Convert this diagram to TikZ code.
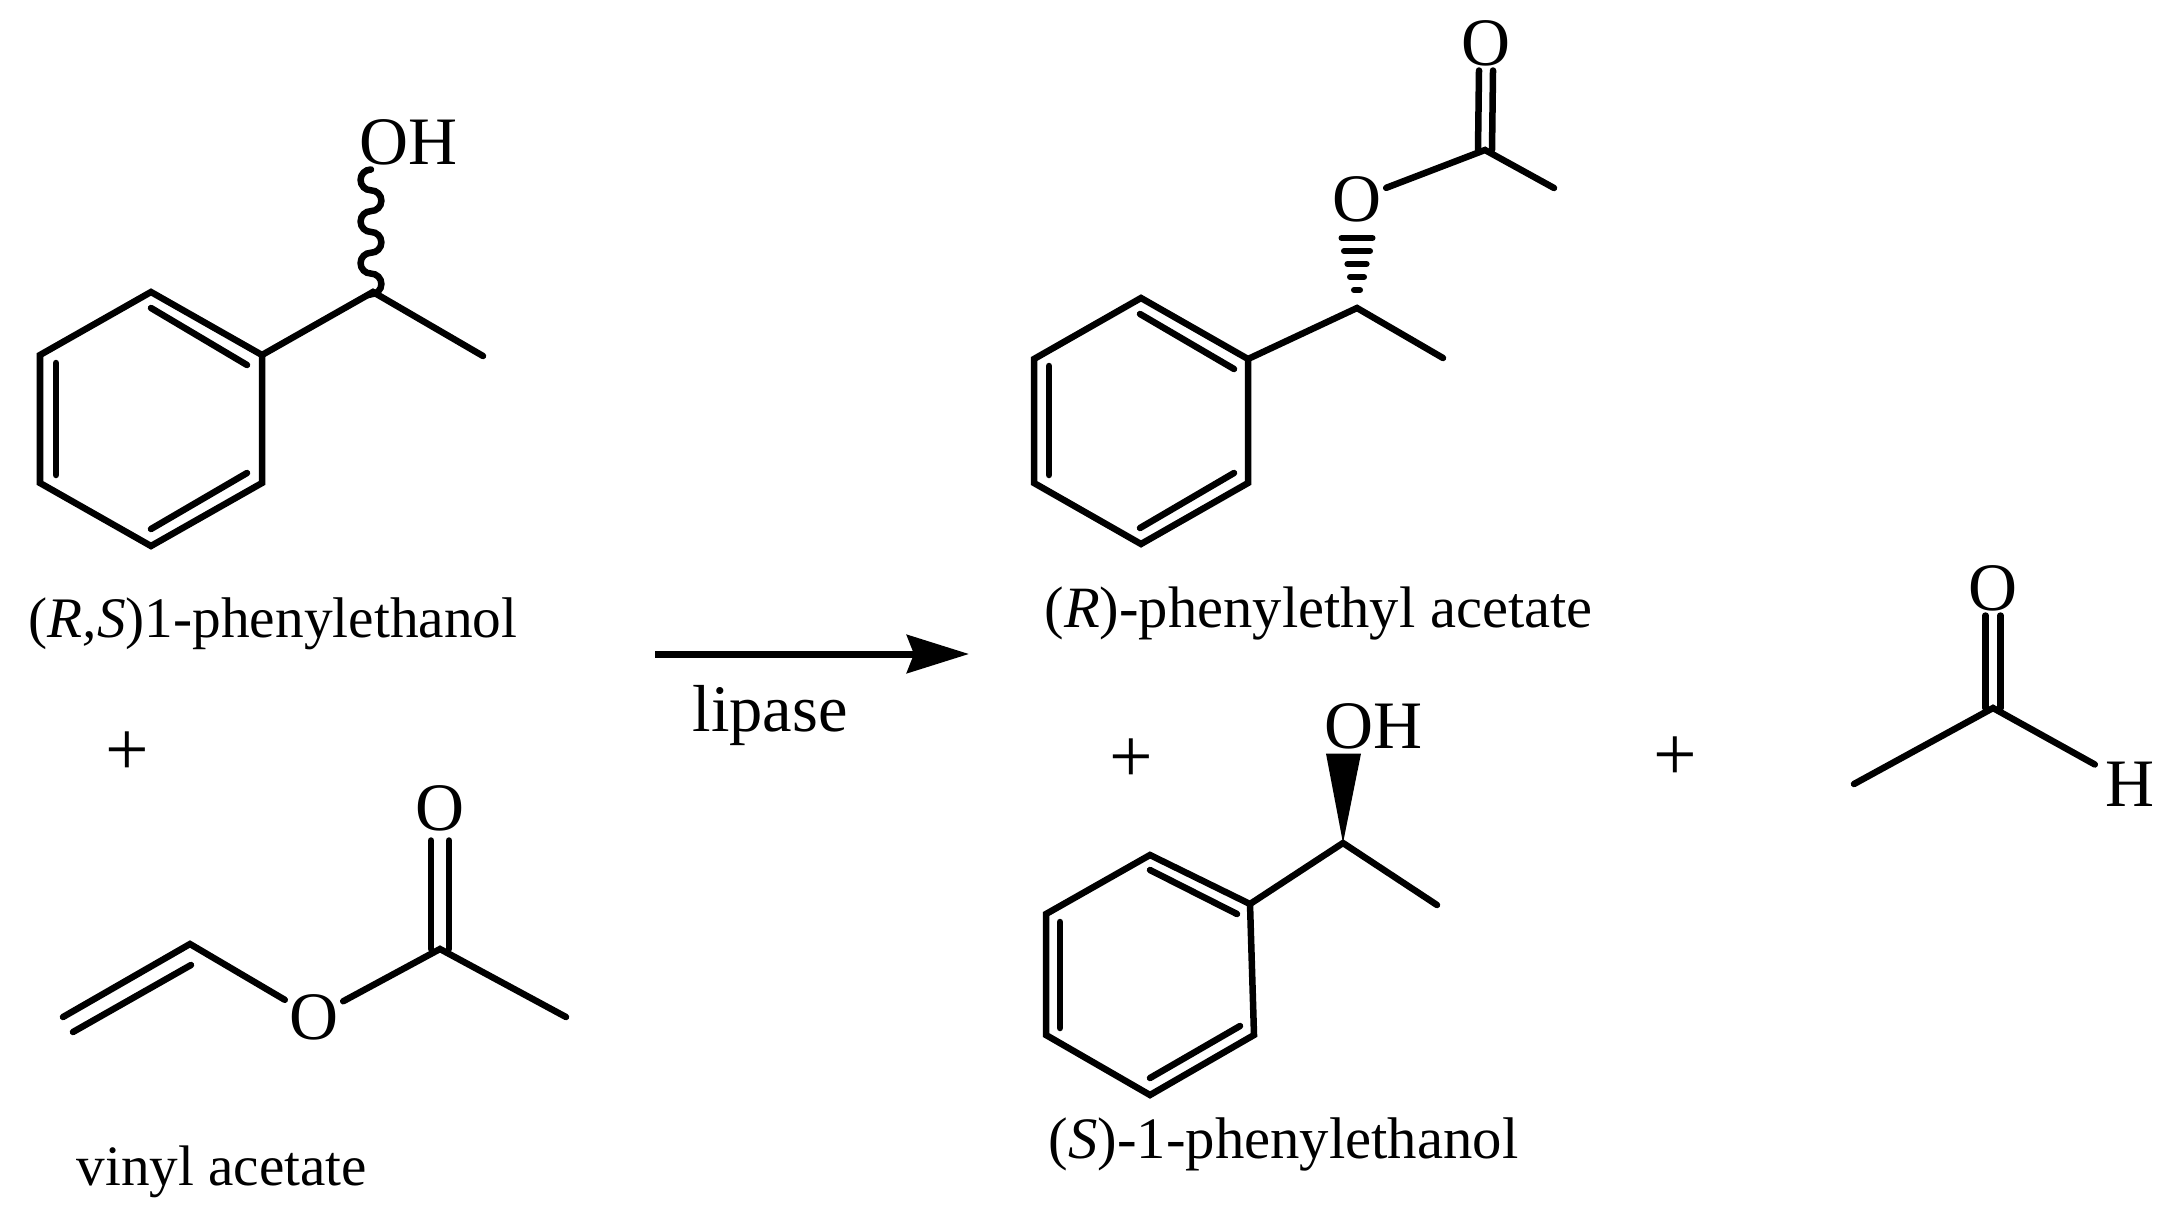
\documentclass[tikz,border=0pt]{standalone}
\usepackage{fontspec}
\usepackage{xcolor}
\setmainfont{Liberation Serif}
\usetikzlibrary{arrows.meta}
\tikzset{
    bond/.style={line width=0.065cm, line cap=round},
    atom/.style={font=\fontsize{19.3}{23}\selectfont, inner sep=0.04cm},
    caption/.style={font=\fontsize{#1}{#1}\selectfont, anchor=base west, inner sep=0pt},
    plus/.style={font=\fontsize{22}{24}\selectfont, inner sep=0pt},
    bulgeleft/.style={start angle=90, end angle=270, radius=0.104cm},
    bulgeright/.style={start angle=90, end angle=-90, radius=0.104cm},
}

\begin{document}
\begin{tikzpicture}[>=Stealth, x=0.01cm, y=-0.01cm]
    \useasboundingbox (0,0) rectangle (2179,1215);

    % (R,S) alcohol, top left
    \coordinate (a1) at (151,292); \coordinate (a2) at (262,355); \coordinate (a3) at (262,483);
    \coordinate (a4) at (151,546); \coordinate (a5) at (40,483); \coordinate (a6) at (40,355);
    \coordinate (a1i) at (151,308); \coordinate (a2i) at (247,365); \coordinate (a3i) at (247,473);
    \coordinate (a4i) at (151,529); \coordinate (a5i) at (56,475); \coordinate (a6i) at (56,363);
    \coordinate (aC) at (373,292); \coordinate (aMe) at (483,356);
    \node[atom] (aOH) at (409,142) {OH};
    \draw[bond] (a1) -- (a2) -- (a3) -- (a4) -- (a5) -- (a6) -- cycle;
    \draw[bond] (a1i) -- (a2i);
    \draw[bond] (a3i) -- (a4i);
    \draw[bond] (a5i) -- (a6i);
    \draw[bond] (a2) -- (aC) -- (aMe);
    \draw[bond] ([xshift=-0.38cm]aOH.south) arc[bulgeleft] arc[bulgeright] arc[bulgeleft]
        arc[bulgeright] arc[bulgeleft] arc[bulgeright] -- (aC);
    \node[caption=16.3] (aName) at (28,637) {(\textit{R,S})1-phenylethanol};

    \node[plus] (plusA) at (127,754) {+};

    % vinyl acetate
    \coordinate (v1) at (63,1017); \coordinate (v1i) at (73,1032);
    \coordinate (v2) at (190,944); \coordinate (v2i) at (191,965);
    \coordinate (vC) at (440,949); \coordinate (vMe) at (566,1017);
    \node[atom] (vO) at (314,1017) {O};
    \node[atom] (vOt) at (440,808) {O};
    \draw[bond] (v1) -- (v2) -- (vO);
    \draw[bond] (v1i) -- (v2i);
    \draw[bond] (vO) -- (vC) -- (vMe);
    \draw[bond] ([xshift=-0.09cm, yshift=-0.05cm]vOt.south) -- ([xshift=-0.09cm]vC);
    \draw[bond] ([xshift=0.09cm, yshift=-0.05cm]vOt.south) -- ([xshift=0.09cm]vC);
    \node[caption=16.25] (vName) at (76,1185) {vinyl acetate};

    % reaction arrow
    \coordinate (arrowStart) at (655,654);
    \coordinate (arrowEnd) at (969,654);
    \draw[-{Stealth[length=0.62cm, width=0.38cm, inset=0.07cm]}, line width=0.07cm] (arrowStart) -- (arrowEnd);
    \node[caption=18.9] (lipase) at (692,731) {lipase};

    % (R) acetate, top right
    \coordinate (r1) at (1141,298); \coordinate (r2) at (1248,359); \coordinate (r3) at (1248,483);
    \coordinate (r4) at (1141,544); \coordinate (r5) at (1034,483); \coordinate (r6) at (1034,359);
    \coordinate (r1i) at (1140,314); \coordinate (r2i) at (1234,369); \coordinate (r3i) at (1234,473);
    \coordinate (r4i) at (1140,528); \coordinate (r5i) at (1049,475); \coordinate (r6i) at (1049,366);
    \coordinate (rC) at (1357,308); \coordinate (rMe) at (1443,358);
    \coordinate (rCO) at (1485,150); \coordinate (rMeB) at (1554,188);
    \node[atom] (rO) at (1357,199) {O};
    \node[atom] (rOt) at (1486,43) {O};
    \draw[bond] (r1) -- (r2) -- (r3) -- (r4) -- (r5) -- (r6) -- cycle;
    \draw[bond] (r1i) -- (r2i);
    \draw[bond] (r3i) -- (r4i);
    \draw[bond] (r5i) -- (r6i);
    \draw[bond] (r2) -- (rC) -- (rMe);
    \foreach \y/\w in {238/15.5, 251/13, 264/9.6, 277/7, 290/3}
        \draw[line width=0.06cm, line cap=round] (1357-\w,\y) -- (1357+\w,\y);
    \draw[bond] (rO) -- (rCO) -- (rMeB);
    \draw[bond] ([xshift=-0.07cm]rOt.south) -- ([xshift=-0.07cm]rCO);
    \draw[bond] ([xshift=0.07cm]rOt.south) -- ([xshift=0.07cm]rCO);
    \node[caption=16.65] (rName) at (1044,627) {(\textit{R})-phenylethyl acetate};

    \node[plus] (plusB) at (1131,761) {+};
    \node[plus] (plusC) at (1675,759) {+};

    % (S) alcohol, bottom
    \coordinate (s1) at (1150,855); \coordinate (s2) at (1250,904); \coordinate (s3) at (1254,1035);
    \coordinate (s4) at (1150,1095); \coordinate (s5) at (1046,1035); \coordinate (s6) at (1046,914);
    \coordinate (s1i) at (1150,870); \coordinate (s2i) at (1237,914); \coordinate (s3i) at (1240,1026);
    \coordinate (s4i) at (1150,1078); \coordinate (s5i) at (1060,1028); \coordinate (s6i) at (1060,922);
    \coordinate (sC) at (1343,843); \coordinate (sMe) at (1437,905);
    \node[atom] (sOH) at (1373,726) {OH};
    \draw[bond] (s1) -- (s2) -- (s3) -- (s4) -- (s5) -- (s6) -- cycle;
    \draw[bond] (s1i) -- (s2i);
    \draw[bond] (s3i) -- (s4i);
    \draw[bond] (s5i) -- (s6i);
    \draw[bond] (s2) -- (sC) -- (sMe);
    \fill (sC) -- ([xshift=-0.47cm]sOH.south) -- ([xshift=-0.12cm]sOH.south) -- cycle;
    \node[caption=16.7] (sName) at (1048,1158) {(\textit{S})-1-phenylethanol};

    % acetaldehyde
    \coordinate (eC) at (1993,708); \coordinate (eMe) at (1854,784);
    \node[atom] (eO) at (1993,588) {O};
    \node[atom, inner sep=0.1cm] (eH) at (2130,784) {H};
    \draw[bond] (eMe) -- (eC) -- (eH);
    \draw[bond] ([xshift=-0.075cm]eO.south) -- ([xshift=-0.075cm]eC);
    \draw[bond] ([xshift=0.075cm]eO.south) -- ([xshift=0.075cm]eC);
\end{tikzpicture}
\end{document}
